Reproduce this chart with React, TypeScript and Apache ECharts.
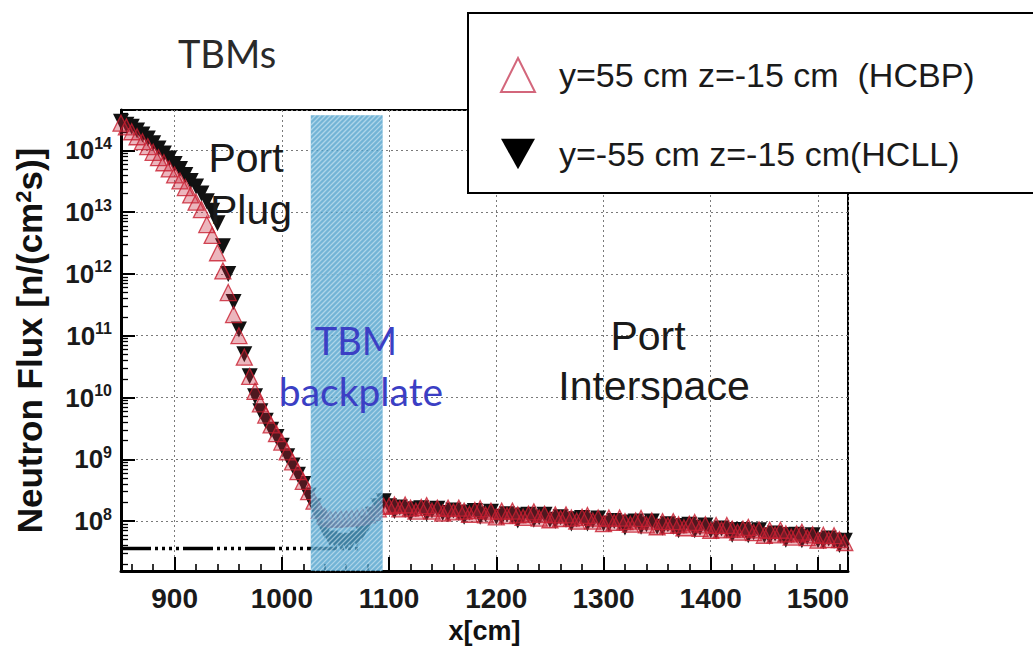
import React, { useEffect, useRef } from "react";
import * as echarts from "echarts";

// x positions (cm)
const xPositions = [
  850, 855, 860, 865, 870, 875, 880, 885, 890, 895,
  900, 905, 910, 915, 920, 925, 930, 935, 940, 945,
  950, 955, 960, 965, 970, 975, 980, 985, 990, 995,
  1000, 1005, 1010, 1015, 1020, 1025, 1030, 1035, 1040, 1045,
  1050, 1055, 1060, 1065, 1070, 1075, 1080, 1085, 1090, 1095,
  1100,
  1105, 1110, 1115, 1120, 1125, 1130, 1135, 1140, 1145, 1150,
  1155, 1160, 1165, 1170, 1175, 1180, 1185, 1190, 1195, 1200,
  1205, 1210, 1215, 1220, 1225, 1230, 1235, 1240, 1245, 1250,
  1255, 1260, 1265, 1270, 1275, 1280, 1285, 1290, 1295, 1300,
  1305, 1310, 1315, 1320, 1325, 1330, 1335, 1340, 1345, 1350,
  1355, 1360, 1365, 1370, 1375, 1380, 1385, 1390, 1395, 1400,
  1405, 1410, 1415, 1420, 1425, 1430, 1435, 1440, 1445, 1450,
  1455, 1460, 1465, 1470, 1475, 1480, 1485, 1490, 1495, 1500,
  1505, 1510, 1515, 1520, 1525,
];

// HCBP: y=55 cm z=-15 cm, neutron flux n/(cm^2 s)
const hcbpFlux = [
  2.75e14, 2.4e14, 2.0e14, 1.66e14, 1.38e14, 1.15e14, 9.3e13, 7.6e13, 6.3e13, 5.0e13,
  4.0e13, 3.2e13, 2.5e13, 1.9e13, 1.45e13, 1.1e13, 6.3e12, 4.2e12, 2.2e12, 1.12e12,
  5.0e11, 2.2e11, 1.0e11, 4.5e10, 2.2e10, 1.26e10, 7.9e9, 5.2e9, 3.6e9, 2.6e9,
  1.9e9, 1.32e9, 9.1e8, 6.3e8, 4.4e8, 3.0e8, 2.1e8, 1.5e8, 1.2e8, 1.1e8,
  1.07e8, 1.1e8, 1.1e8, 1.12e8, 1.15e8, 1.2e8, 1.26e8, 1.38e8, 1.58e8, 1.74e8,
  1.74e8,
  1.82e8, 1.58e8, 1.82e8, 1.62e8, 1.45e8, 1.66e8, 1.78e8, 1.45e8, 1.62e8, 1.35e8,
  1.62e8, 1.41e8, 1.62e8, 1.45e8, 1.29e8, 1.48e8, 1.58e8, 1.26e8, 1.45e8, 1.17e8,
  1.45e8, 1.23e8, 1.45e8, 1.26e8, 1.15e8, 1.29e8, 1.41e8, 1.12e8, 1.29e8, 1.05e8,
  1.26e8, 1.10e8, 1.26e8, 1.12e8, 1.00e8, 1.15e8, 1.23e8, 1.00e8, 1.12e8, 9.1e7,
  1.12e8, 9.5e7, 1.12e8, 9.8e7, 8.9e7, 1.00e8, 1.10e8, 8.7e7, 1.00e8, 8.1e7,
  9.8e7, 8.5e7, 9.8e7, 8.7e7, 7.8e7, 8.9e7, 9.5e7, 7.6e7, 8.7e7, 7.1e7,
  8.5e7, 7.2e7, 8.5e7, 7.4e7, 6.6e7, 7.4e7, 7.9e7, 6.5e7, 7.2e7, 5.9e7,
  7.1e7, 6.0e7, 7.1e7, 6.2e7, 5.5e7, 6.2e7, 6.6e7, 5.4e7, 6.0e7, 4.9e7,
  5.9e7, 5.0e7, 5.8e7, 5.0e7, 4.5e7,
];

// HCLL: y=-55 cm z=-15 cm
const hcllFlux = [
  2.9e14, 2.6e14, 2.4e14, 2.1e14, 1.8e14, 1.55e14, 1.3e14, 1.07e14, 8.9e13, 7.4e13,
  6.0e13, 5.0e13, 4.0e13, 3.2e13, 2.6e13, 2.0e13, 1.5e13, 1.05e13, 6.6e12, 2.8e12,
  1.0e12, 3.5e11, 1.26e11, 5.0e10, 2.2e10, 1.05e10, 6.0e9, 4.2e9, 3.0e9, 2.3e9,
  1.66e9, 1.12e9, 7.9e8, 5.6e8, 4.0e8, 2.6e8, 1.74e8, 1.12e8, 7.1e7, 5.2e7,
  4.8e7, 4.6e7, 4.6e7, 4.8e7, 5.2e7, 6.6e7, 9.1e7, 1.26e8, 1.74e8, 2.1e8,
  1.74e8,
  1.45e8, 1.66e8, 1.51e8, 1.32e8, 1.55e8, 1.62e8, 1.32e8, 1.48e8, 1.58e8, 1.35e8,
  1.29e8, 1.48e8, 1.35e8, 1.17e8, 1.38e8, 1.45e8, 1.17e8, 1.29e8, 1.41e8, 1.17e8,
  1.15e8, 1.29e8, 1.20e8, 1.02e8, 1.23e8, 1.26e8, 1.05e8, 1.15e8, 1.26e8, 1.05e8,
  1.00e8, 1.15e8, 1.05e8, 9.1e7, 1.07e8, 1.12e8, 9.1e7, 1.02e8, 1.10e8, 9.1e7,
  8.9e7, 1.00e8, 9.3e7, 7.9e7, 9.5e7, 9.8e7, 8.1e7, 8.9e7, 9.8e7, 8.1e7,
  7.8e7, 8.9e7, 8.1e7, 7.1e7, 8.3e7, 8.7e7, 7.1e7, 7.8e7, 8.5e7, 7.1e7,
  6.8e7, 7.6e7, 7.1e7, 6.0e7, 7.1e7, 7.2e7, 5.9e7, 6.6e7, 7.1e7, 5.9e7,
  5.6e7, 6.3e7, 5.9e7, 5.0e7, 5.9e7, 6.0e7, 4.9e7, 5.5e7, 5.9e7, 4.9e7,
  4.7e7, 5.2e7, 4.8e7, 4.1e7, 4.8e7,
];

const limitLineX = [850, 1073];
const limitLineFlux = [3.6e7, 3.6e7];
const backplateRange = [1027, 1094];
const backplateTopFlux = 3.7e14;
const xRange = [850, 1528];
const yRange = [1.55e7, 4.5e14];
const seriesNames = ["y=55 cm z=-15 cm  (HCBP)", "y=-55 cm z=-15 cm(HCLL)"];
const yAxisTitle = "Neutron Flux [n/(cm{sup|2}s)]";
const xAxisTitle = "x[cm]";

const ARIAL = "'Liberation Sans', Arial, sans-serif";
const CAL = "Lato, 'Open Sans', sans-serif";

export default function App() {
  const ref = useRef<HTMLDivElement>(null);
  useEffect(() => {
    if (!ref.current) return;
    const chart = echarts.init(ref.current, undefined, { renderer: "svg" });
    const hcbpData = xPositions.map((x, i) => [x, hcbpFlux[i]]);
    const hcllData = xPositions.map((x, i) => [x, hcllFlux[i]]);
    const limitData = limitLineX.map((x, i) => [x, limitLineFlux[i]]);

    const option: any = {
      animation: false,
      grid: {
        left: 121, top: 110, width: 727, height: 470,
        show: true, borderColor: "#000", borderWidth: 2,
      },
      xAxis: {
        type: "value", min: xRange[0], max: xRange[1], splitNumber: 6,
        name: xAxisTitle, nameLocation: "middle", nameGap: 42,
        nameTextStyle: { fontFamily: ARIAL, fontWeight: "bold", fontSize: 27, color: "#111" },
        axisLine: { show: true, lineStyle: { color: "#000", width: 3 } },
        axisTick: { show: true, inside: true, length: 14, lineStyle: { color: "#000", width: 2 } },
        minorTick: { show: true, splitNumber: 5, length: 7, lineStyle: { color: "#000", width: 1.6 } },
        axisLabel: {
          showMinLabel: false, showMaxLabel: false, margin: 13,
          formatter: (v: number) => String(v),
          fontFamily: ARIAL, fontWeight: "bold", fontSize: 28, color: "#1a1a1a",
        },
        splitLine: { show: true, lineStyle: { color: "#7a7a7a", width: 1, type: [2, 3] } },
      },
      yAxis: {
        type: "log", min: yRange[0], max: yRange[1],
        name: yAxisTitle, nameLocation: "middle", nameGap: 74, nameRotate: 90,
        nameTextStyle: {
          fontFamily: ARIAL, fontWeight: "bold", fontSize: 35, color: "#111",
          rich: { sup: { fontFamily: ARIAL, fontWeight: "bold", fontSize: 22, verticalAlign: "top", lineHeight: 22 } },
        },
        axisLine: { show: true, lineStyle: { color: "#000", width: 3 } },
        axisTick: { show: true, inside: true, length: 14, lineStyle: { color: "#000", width: 2 } },
        minorTick: { show: true, splitNumber: 9, length: 7, lineStyle: { color: "#000", width: 1.3 } },
        axisLabel: {
          showMinLabel: false, showMaxLabel: false, margin: 9,
          formatter: (v: number) => {
            const e = Math.log10(v);
            const r = Math.round(e);
            if (Math.abs(e - r) > 1e-6) return "";
            return `{b|10}{s|${r}}`;
          },
          rich: {
            b: { fontFamily: ARIAL, fontWeight: "bold", fontSize: 26, color: "#1a1a1a", lineHeight: 30 },
            s: { fontFamily: ARIAL, fontWeight: "bold", fontSize: 16, color: "#1a1a1a", verticalAlign: "top", lineHeight: 14 },
          },
        },
        splitLine: { show: true, lineStyle: { color: "#7a7a7a", width: 1, type: [2, 3] } },
      },
      legend: {
        show: true, orient: "vertical", left: 495, top: 52, z: 30,
        itemWidth: 34, itemHeight: 34, itemGap: 44, selectedMode: false,
        textStyle: { fontFamily: ARIAL, fontSize: 34, color: "#1a1a1a", padding: [0, 0, 0, 19] },
        data: [
          { name: seriesNames[0], icon: "triangle", itemStyle: { color: "#fff", borderColor: "#c8405a", borderWidth: 2 } },
          { name: seriesNames[1], icon: "path://M0,0L10,0L5,9Z", itemStyle: { color: "#000", borderWidth: 0 } },
        ],
      },
      graphic: [
        { type: "rect", z: 20, shape: { x: 468, y: 13, width: 600, height: 180 }, style: { fill: "#fff", stroke: "#000", lineWidth: 2 } },
        { type: "text", z: 10, x: 227, y: 53, style: { text: "TBMs", font: `38px ${CAL}`, fill: "#2a2a2a", textAlign: "center", textVerticalAlign: "middle" } },
        { type: "text", z: 10, x: 246, y: 158, style: { text: "Port", font: `41px ${ARIAL}`, fill: "#1a1a1a", textAlign: "center", textVerticalAlign: "middle" } },
        { type: "text", z: 10, x: 251, y: 210, style: { text: "Plug", font: `41px ${ARIAL}`, fill: "#1a1a1a", textAlign: "center", textVerticalAlign: "middle" } },
        { type: "text", z: 10, x: 356, y: 340, style: { text: "TBM", font: `38px ${CAL}`, fill: "#3b3fc4", textAlign: "center", textVerticalAlign: "middle" } },
        { type: "text", z: 10, x: 361, y: 391, style: { text: "backplate", font: `39px ${CAL}`, fill: "#3b3fc4", textAlign: "center", textVerticalAlign: "middle" } },
        { type: "text", z: 10, x: 648, y: 336, style: { text: "Port", font: `41px ${ARIAL}`, fill: "#1a1a1a", textAlign: "center", textVerticalAlign: "middle" } },
        { type: "text", z: 10, x: 654, y: 386, style: { text: "Interspace", font: `41px ${ARIAL}`, fill: "#1a1a1a", textAlign: "center", textVerticalAlign: "middle" } },
      ],
      series: [
        {
          name: "limit", type: "line", data: limitData, symbol: "none", z: 2,
          lineStyle: { color: "#000", width: 3.5, type: [30, 4, 3, 4, 3, 4, 3, 4, 3, 4] }, silent: true,
        },
        {
          name: seriesNames[1], type: "scatter", data: hcllData, z: 2,
          symbol: "triangle", symbolRotate: 180, symbolSize: 16,
          itemStyle: { color: "#111", opacity: 1 },
        },
        {
          name: seriesNames[0], type: "scatter", data: hcbpData, z: 2,
          symbol: "triangle", symbolSize: 16,
          itemStyle: { color: "rgba(200,40,60,0.42)", borderColor: "#c81e30", borderWidth: 1.3 },
        },
        {
          name: "backplate", type: "custom", z: 3, silent: true, clip: false,
          data: [[backplateRange[0], backplateRange[1]]],
          renderItem: (params: any, api: any) => {
            const p0 = api.coord([api.value(0), backplateTopFlux]);
            const p1 = api.coord([api.value(1), backplateTopFlux]);
            const x0 = p0[0], x1 = p1[0], y0 = p0[1];
            const y1 = params.coordSys.y + params.coordSys.height;
            const children: any[] = [
              { type: "rect", shape: { x: x0, y: y0, width: x1 - x0, height: y1 - y0 }, style: { fill: "#4b9fca", opacity: 0.78 } },
            ];
            for (let c = x0 + y0; c <= x1 + y1; c += 5) {
              const ya = Math.max(y0, c - x1);
              const yb = Math.min(y1, c - x0);
              if (ya < yb) {
                children.push({
                  type: "line",
                  shape: { x1: c - ya, y1: ya, x2: c - yb, y2: yb },
                  style: { stroke: "#d5ecf6", lineWidth: 1.3, opacity: 0.6 },
                });
              }
            }
            return { type: "group", children };
          },
        },
      ],
    };
    chart.setOption(option);
    return () => chart.dispose();
  }, []);
  return <div ref={ref} style={{ position: "fixed", left: 0, top: 0, width: 1033, height: 649, background: "#fff" }} />;
}
